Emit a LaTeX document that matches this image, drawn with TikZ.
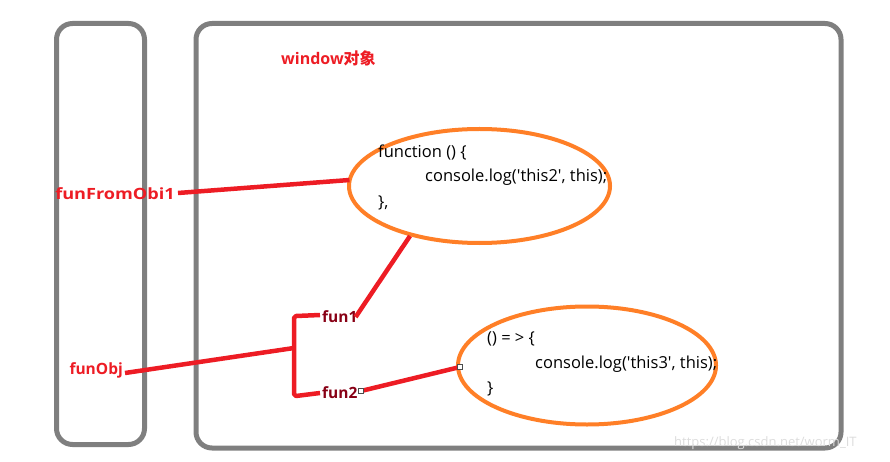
\documentclass[tikz,border=0pt]{standalone}
\usepackage{fontspec}
\setmainfont{Open Sans}
\newfontfamily\cjk{Noto Sans CJK SC}
\definecolor{frame}{HTML}{7F7F7F}
\definecolor{wire}{HTML}{ED1C24}
\definecolor{ring}{HTML}{FF7F27}
\definecolor{prop}{HTML}{880015}
\definecolor{mark}{HTML}{DCDCDC}
\usetikzlibrary{shapes.geometric}
\tikzset{
  panel/.style={draw=frame, line width=5pt, rounded corners=16pt},
  bubble/.style={draw=ring, line width=4pt},
  link/.style={draw=wire, line width=4.5pt},
  varlabel/.style={text=wire, font=\fontsize{15.5}{17}\selectfont\bfseries, inner sep=0pt},
  proplabel/.style={text=prop, font=\fontsize{15.5}{17}\selectfont\bfseries, inner sep=0pt},
  code/.style={font=\fontsize{16.5}{18}\selectfont, inner sep=0pt, anchor=west},
  grip/.style={draw=black!70, fill=white, line width=0.8pt, minimum size=5pt, inner sep=0pt, rectangle},
}
% straight single quote, set as a glyph so no ligature mapping turns it curly
\newcommand{\sq}{\XeTeXglyph\XeTeXcharglyph"0027\relax}
\begin{document}
\begin{tikzpicture}[x=1pt, y=-1pt]
\useasboundingbox (0,0) rectangle (890,462);
% the two frames
\draw[panel] (56.5,23.5) rectangle (144.5,444.5);
\draw[panel] (196,23.5) rectangle (841,448);
\node[text=wire, font=\fontsize{16}{18}\selectfont\bfseries, anchor=west, inner sep=0pt] (title) at (281,58) {window{\cjk 对象}};

% function bubbles
\draw[bubble] (479.5,186) ellipse (130.5pt and 57pt);
\node[code] (f1) at (378,152) {function () \{};
\node[code] (f2) at (425,177) {console.log(\sq this2\sq, this);};
\node[code] (f3) at (378,203) {\},};
\coordinate (e1l) at (349.5,180);
\coordinate (e1b) at (410,236);

\draw[bubble] (587,365.5) ellipse (129pt and 59pt);
\node[code] (g1) at (487,339) {() = > \{};
\node[code] (g2) at (535,364) {console.log(\sq this3\sq, this);};
\node[code] (g3) at (487,389) {\}};
\coordinate (e2l) at (460,367);

% variable labels
\node[varlabel, anchor=east, xscale=1.17, transform shape] (ffo) at (175,194) {funFromObi1};
\node[varlabel, anchor=east] (fo) at (123,370) {funObj};
\node[proplabel, anchor=west] (p1) at (322,317) {fun1};
\node[proplabel, anchor=west] (p2) at (322,393) {fun2};

% connectors
\coordinate (fork) at (294,348);
\draw[link] (ffo.east) ++(3,-1) -- (e1l);
\draw[link] (fo.east) ++(2,3) -- (fork);
\draw[link, line join=round] (p1.west) ++(-2,-2) -- (296,316) -- (294,318) -- (294,394) -- (296,396) -- ([xshift=-2pt]p2.west);
\draw[link] (p1.east) ++(-2,0) -- (e1b);
\coordinate (h1) at (361,391);
\draw[link] (h1) -- (e2l);
\node[grip] (hA) at (h1) {};
\node[grip] (hB) at (e2l) {};

% watermark
\node[text=mark, font=\fontsize{13}{15}\selectfont, anchor=west, inner sep=0pt] (wm) at (674,443) {https://blog.csdn.net/worm\_IT};
\end{tikzpicture}
\end{document}
